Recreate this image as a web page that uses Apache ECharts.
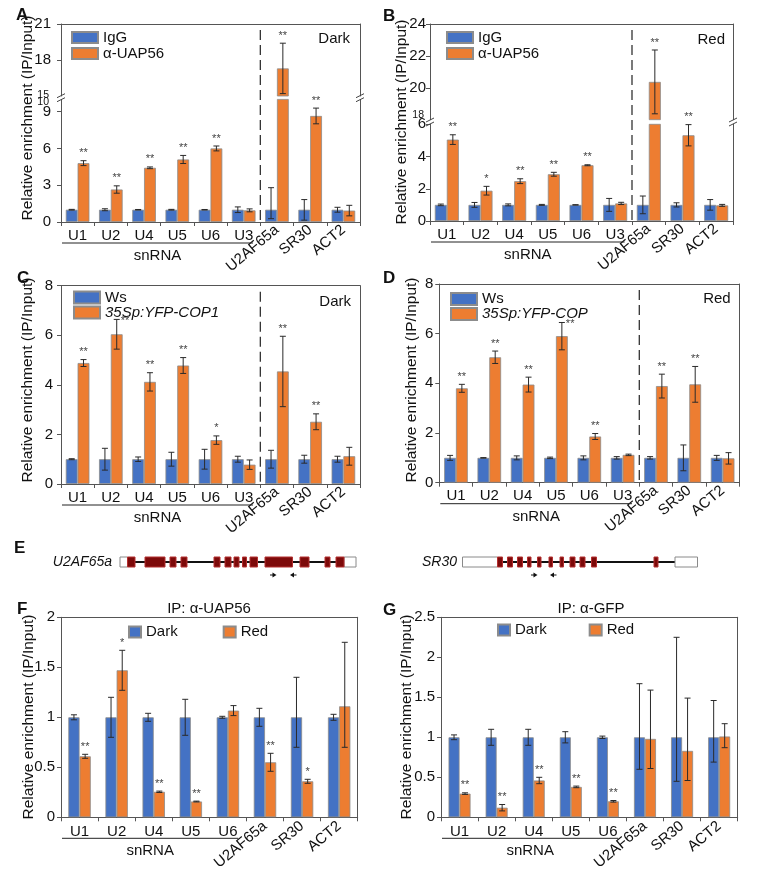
<!DOCTYPE html>
<html><head><meta charset="utf-8">
<script src="https://cdn.jsdelivr.net/npm/echarts@6/dist/echarts.min.js"></script>
<style>html,body{margin:0;padding:0;background:#fff}#c{width:768px;height:874px}</style>
</head><body><div id="c"></div>
<script>
// ================= DATA =================
const catsAD = ['U1','U2','U4','U5','U6','U3','U2AF65a','SR30','ACT2'];
const catsFG = ['U1','U2','U4','U5','U6','U2AF65a','SR30','ACT2'];
const rotatedCats = ['U2AF65a','SR30','ACT2'];
const groupLabel = 'snRNA';

// Panel A (Dark)  IgG vs α-UAP56 ; errors: number = ±, [down, up] = asymmetric
const A_ticksUp  = [15, 18, 21];
const A_ticksLow = [0, 3, 6, 9, 10];
const A_igg    = [1, 1, 1, 1, 1, 1, 1, 1, 1];
const A_iggErr = [0.03, 0.08, 0.02, 0.03, 0.02, 0.23, [0.73, 1.8], [0.85, 0.83], 0.2];
const A_uap    = [4.8, 2.65, 4.42, 5.1, 6.0, 0.95, 17.3, 8.65, 0.93];
const A_uapErr = [0.2, 0.3, 0.07, 0.33, 0.2, 0.12, 2.1, 0.64, 0.43];
const A_stars  = ['**','**','**','**','**','','**','**',''];

// Panel B (Red)
const B_ticksUp  = [18, 20, 22, 24];
const B_ticksLow = [0, 2, 4, 6];
const B_igg    = [1, 1, 1, 1, 1, 1, 1, 1, 1];
const B_iggErr = [0.05, 0.15, 0.06, 0.03, 0.01, 0.4, 0.55, 0.13, 0.33];
const B_uap    = [5.05, 1.88, 2.47, 2.9, 3.46, 1.09, 20.37, 5.32, 0.97];
const B_uapErr = [0.3, 0.27, 0.15, 0.12, 0.03, 0.07, 2.0, 0.66, 0.06];
const B_stars  = ['**','*','**','**','**','','**','**',''];

// Panel C (Dark)  Ws vs 35Sp:YFP-COP1
const C_ticks  = [0, 2, 4, 6, 8];
const C_ws     = [1, 1, 1, 1, 1, 1, 1, 1, 1];
const C_wsErr  = [0.02, 0.44, 0.09, 0.28, 0.4, 0.12, 0.36, 0.16, 0.12];
const C_cop    = [4.88, 6.04, 4.12, 4.78, 1.77, 0.78, 4.54, 2.51, 1.12];
const C_copErr = [0.14, 0.6, 0.37, 0.32, 0.17, 0.19, 1.42, 0.32, 0.36];
const C_stars  = ['**','**','**','**','*','','**','**',''];
const C_starRight = [0, 1, 0, 0, 0, 0, 0, 0, 0];

// Panel D (Red)
const D_ticks  = [0, 2, 4, 6, 8];
const D_ws     = [1, 1, 1, 1, 1, 1, 1, 1, 1];
const D_wsErr  = [0.1, 0.01, 0.08, 0.03, 0.08, 0.05, 0.05, 0.52, 0.1];
const D_cop    = [3.8, 5.05, 3.95, 5.9, 1.86, 1.12, 3.89, 3.96, 0.98];
const D_copErr = [0.16, 0.25, 0.3, 0.55, 0.12, 0.03, 0.48, 0.72, 0.23];
const D_stars  = ['**','**','**','**','**','','**','**',''];
const D_starRight = [0, 0, 0, 1, 0, 0, 0, 0, 0];

// Panel F  IP: α-UAP56
const F_ticks   = [0, 0.5, 1, 1.5, 2];
const F_dark    = [1, 1, 1, 1, 1, 1, 1, 1];
const F_darkErr = [0.025, 0.2, 0.04, 0.18, 0.01, 0.09, [0.3, 0.4], 0.03];
const F_red     = [0.61, 1.47, 0.255, 0.158, 1.067, 0.55, 0.36, 1.11];
const F_redErr  = [0.02, 0.2, 0.007, 0.004, 0.05, 0.09, 0.02, [0.41, 0.64]];
const F_stars   = ['**','*','**','**','','**','*',''];

// Panel G  IP: α-GFP
const G_ticks   = [0, 0.5, 1, 1.5, 2, 2.5];
const G_dark    = [1, 1, 1, 1, 1, 1, 1, 1];
const G_darkErr = [0.03, 0.1, 0.1, 0.07, 0.015, [0.4, 0.67], [0.55, 1.25], [0.31, 0.46]];
const G_red     = [0.296, 0.12, 0.46, 0.38, 0.2, 0.98, 0.83, 1.01];
const G_redErr  = [0.01, 0.04, 0.04, 0.01, 0.01, [0.37, 0.61], [0.37, 0.66], [0.14, 0.16]];
const G_stars   = ['**','**','**','**','**','','',''];

// Panel E gene models (relative gene units)
const E_u2afLen     = 236;
const E_u2afUTR     = [[0, 7.5], [224, 236]];
const E_u2afExons   = [[7.5,15],[25,45],[50,56],[61,67],[94,100],[105,111],[114,119],[122.5,126.5],[130,137.5],[145,172.5],[180,189],[205,210],[216,224]];
const E_u2afPrimers = [[154, 1], [172.5, -1]];
const E_sr30Len     = 235;
const E_sr30UTR     = [[0, 35], [212.5, 235]];
const E_sr30Exons   = [[35,40],[45,50],[55,60],[65,68.5],[75,78.5],[86.5,90],[97.5,101],[107.5,112.5],[117.5,122.5],[129,134],[191.5,195.5]];
const E_sr30Primers = [[72.5, 1], [90, -1]];

// ================= BUILD =================
const FONT = '"Liberation Sans", Arial, Helvetica, sans-serif';
const BLUE = '#4472c4', ORANGE = '#ed7d31', EDGE = '#8c8c8c', AX = '#555', TXT = '#111';
const grids = [], xAxes = [], yAxes = [], series = [], legends = [], gfx = [];
function addGrid(r){ grids.push(Object.assign({show:false, containLabel:false, outerBoundsMode:'none'}, r)); return grids.length-1; }
function addX(o){ xAxes.push(o); return xAxes.length-1; }
function addY(o){ yAxes.push(o); return yAxes.length-1; }
function eDown(e){ return Array.isArray(e) ? e[0] : e; }
function eUp(e){ return Array.isArray(e) ? e[1] : e; }

function errSeries(xi, yi, vals, errs, stars, starRight, side, barW, segMin, segMax){
  const data = [];
  vals.forEach((v, i) => {
    if (v >= segMin && v <= segMax) {
      data.push([i, v, Math.max(segMin, v - eDown(errs[i])), v + eUp(errs[i])]);
    }
  });
  return {type:'custom', xAxisIndex:xi, yAxisIndex:yi, z:5, silent:true, clip:false, data, encode:{x:0, y:1},
    renderItem(p, api){
      const i = api.value(0), v = api.value(1), lo = api.value(2), hi = api.value(3);
      const x = api.coord([i, v])[0] + side * barW / 2;
      const yt = api.coord([i, hi])[1], yb = api.coord([i, lo])[1];
      const st = {stroke:'#2a2a2a', lineWidth:1};
      const ch = [
        {type:'line', shape:{x1:x, y1:yt, x2:x, y2:yb}, style:st},
        {type:'line', shape:{x1:x-3, y1:yt, x2:x+3, y2:yt}, style:st},
        {type:'line', shape:{x1:x-3, y1:yb, x2:x+3, y2:yb}, style:st}
      ];
      const s = stars ? stars[i] : '';
      if (s) {
        const right = starRight && starRight[i];
        ch.push({type:'text', style:{text:s, x: right ? x + 4 : x, y: right ? yt + 7 : yt - 2,
          align: right ? 'left' : 'center', verticalAlign:'bottom',
          textAlign: right ? 'left' : 'center', textVerticalAlign:'bottom', font:'11px '+FONT, fill:'#444'}});
      }
      return {type:'group', children:ch};
    }};
}

function barPanel(cfg){
  const n = cfg.segments.length;
  const topRect = cfg.segments[0].rect;
  cfg.segments.forEach((seg, k) => {
    const isTop = k === 0, isBottom = k === n-1;
    const g = addGrid(seg.rect);
    const tk = seg.ticks, ymin = tk[0], ymax = tk[tk.length-1], step = tk[1]-tk[0];
    const small = seg.small || [];          // [value, dy] labels at the axis break
    const smallVals = small.map(s => s[0]);
    const xi = addX({type:'category', gridIndex:g, data:cfg.cats, position:isBottom?'bottom':'top', boundaryGap:true,
      axisLine:{show:true, lineStyle:{color:AX, width:1}},
      axisTick:{show:isBottom, length:4, interval:0, lineStyle:{color:AX}},
      axisLabel:{show:isBottom, interval:0, margin:cfg.xMargin, fontSize:15, color:TXT, fontFamily:FONT,
        formatter: v => rotatedCats.includes(v) ? '' : v},
      splitLine:{show:false}});
    if (isBottom) {
      addX({type:'category', gridIndex:g, data:cfg.cats, position:'bottom', boundaryGap:true,
        axisLine:{show:false}, axisTick:{show:false}, splitLine:{show:false},
        axisLabel:{interval:0, rotate:40, margin:cfg.xMargin, fontSize:15, color:TXT, fontFamily:FONT,
          formatter: v => rotatedCats.includes(v) ? v : ''}});
      if (isTop) addX({type:'category', gridIndex:g, data:cfg.cats, position:'top',
        axisLine:{show:true, lineStyle:{color:AX, width:1}}, axisTick:{show:false}, axisLabel:{show:false}, splitLine:{show:false}});
    }
    const yi = addY({type:'value', gridIndex:g, position:'left', min:ymin, max:ymax, interval:step,
      axisLine:{show:true, lineStyle:{color:AX, width:1}},
      axisTick:{show:true, length:4, lineStyle:{color:AX}},
      axisLabel:{show:true, margin:cfg.yMargin, fontSize:15, color:TXT, fontFamily:FONT, hideOverlap:false,
        showMinLabel: !smallVals.includes(ymin), showMaxLabel: !smallVals.includes(ymax)},
      splitLine:{show:false}});
    addY({type:'value', gridIndex:g, position:'right', min:ymin, max:ymax, interval:step,
      axisLine:{show:true, lineStyle:{color:AX, width:1}}, axisTick:{show:false}, axisLabel:{show:false}, splitLine:{show:false}});

    if (small.length) {
      series.push({type:'custom', xAxisIndex:xi, yAxisIndex:yi, silent:true, z:6, clip:false,
        data: small.map(s => [0, s[0], s[1]]),
        renderItem(p, api){
          const cs = p.coordSys;
          const y = api.coord([0, api.value(1)])[1] + api.value(2);
          return {type:'text', style:{text:String(api.value(1)), x:cs.x - 4 - cfg.yMargin + 2, y:y,
            align:'right', verticalAlign:'middle', textAlign:'right', textVerticalAlign:'middle',
            font:'10.5px '+FONT, fill:TXT}};
        }});
    }

    cfg.series.forEach((s, si) => {
      series.push({type:'bar', name:s.name, xAxisIndex:xi, yAxisIndex:yi, data:s.vals, barWidth:cfg.barW, barGap:'0%',
        clip:true, silent:true, z:2, itemStyle:{color:s.color, borderColor:EDGE, borderWidth:0.8}});
      series.push(errSeries(xi, yi, s.vals, s.errs, s.stars, s.starRight, si === 0 ? -1 : 1, cfg.barW, ymin, ymax));
    });

    if (isBottom) {
      if (cfg.sep != null) {
        const sepTop = topRect.top + 6;
        series.push({type:'custom', xAxisIndex:xi, yAxisIndex:yi, silent:true, z:4, clip:false, data:[[cfg.sep, ymin]],
          renderItem(p, api){
            const cs = p.coordSys;
            const x = (api.coord([cfg.sep-1, ymin])[0] + api.coord([cfg.sep, ymin])[0]) / 2;
            return {type:'line', shape:{x1:x, y1:sepTop, x2:x, y2:cs.y+cs.height-1},
              style:{stroke:'#333', lineWidth:1.3, lineDash:[10,5]}};
          }});
      }
      series.push({type:'custom', xAxisIndex:xi, yAxisIndex:yi, silent:true, z:4, clip:false, data:[[0, ymin]],
        renderItem(p, api){
          const cs = p.coordSys, band = api.size([1,0])[0];
          const x0 = cs.x + 1, x1 = api.coord([cfg.snCount-1, ymin])[0] + 0.28*band;
          const yl = cs.y + cs.height + 21;
          return {type:'group', children:[
            {type:'line', shape:{x1:x0, y1:yl, x2:x1, y2:yl}, style:{stroke:'#222', lineWidth:1}},
            {type:'text', style:{text:groupLabel, x:(x0+x1)/2, y:yl+13, align:'center', verticalAlign:'middle',
              textAlign:'center', textVerticalAlign:'middle', font:'15px '+FONT, fill:TXT}}
          ]};
        }});
      if (n > 1) {
        const up = cfg.segments[0].rect;
        const gapMid = (up.top + up.height + seg.rect.top) / 2;
        series.push({type:'custom', xAxisIndex:xi, yAxisIndex:yi, silent:true, z:6, clip:false, data:[[0, ymin]],
          renderItem(p){
            const cs = p.coordSys, ch = [];
            [cs.x, cs.x + cs.width].forEach(x0 => {
              [-2, 2].forEach(d => ch.push({type:'line', shape:{x1:x0-4, y1:gapMid+d+2, x2:x0+4, y2:gapMid+d-2},
                style:{stroke:'#444', lineWidth:1}}));
            });
            return {type:'group', children:ch};
          }});
      }
    }
  });
  legends.push(Object.assign({data:cfg.series.map(s => s.name), selectedMode:false, icon:'rect',
    textStyle:{fontSize:15, color:TXT, fontFamily:FONT, lineHeight:cfg.legend.lh || 15,
      rich:{i:{fontStyle:'italic', fontSize:15, color:TXT, fontFamily:FONT}}},
    formatter: nm => (cfg.legend.italic && cfg.legend.italic.includes(nm)) ? '{i|'+nm+'}' : nm,
    padding:0}, cfg.legend.pos));
}

// --- Panels A-D ---
barPanel({cats:catsAD, barW:11.8, sep:6, snCount:6, xMargin:6, yMargin:10,
  segments:[{rect:{left:61, top:24, width:299, height:72}, ticks:A_ticksUp, small:[[15, -0.5]]},
            {rect:{left:61, top:99.4, width:299, height:122.6}, ticks:A_ticksLow, small:[[10, 3]]}],
  series:[{name:'IgG', color:BLUE, vals:A_igg, errs:A_iggErr, stars:null},
          {name:'α-UAP56', color:ORANGE, vals:A_uap, errs:A_uapErr, stars:A_stars}],
  legend:{pos:{orient:'vertical', left:71, top:30, itemWidth:26, itemHeight:11, itemGap:1}}});

barPanel({cats:catsAD, barW:12, sep:6, snCount:6, xMargin:6, yMargin:4,
  segments:[{rect:{left:430, top:24, width:303, height:95.7}, ticks:B_ticksUp, small:[[18, -5]]},
            {rect:{left:430, top:124.3, width:303, height:96.7}, ticks:B_ticksLow}],
  series:[{name:'IgG', color:BLUE, vals:B_igg, errs:B_iggErr, stars:null},
          {name:'α-UAP56', color:ORANGE, vals:B_uap, errs:B_uapErr, stars:B_stars}],
  legend:{pos:{orient:'vertical', left:446, top:30, itemWidth:26, itemHeight:11, itemGap:1}}});

barPanel({cats:catsAD, barW:11.8, sep:6, snCount:6, xMargin:6, yMargin:8,
  segments:[{rect:{left:61, top:285.7, width:299, height:198.3}, ticks:C_ticks}],
  series:[{name:'Ws', color:BLUE, vals:C_ws, errs:C_wsErr, stars:null},
          {name:'35Sp:YFP-COP1', color:ORANGE, vals:C_cop, errs:C_copErr, stars:C_stars, starRight:C_starRight}],
  legend:{italic:['35Sp:YFP-COP1'], lh:14, pos:{orient:'vertical', left:73, top:290, itemWidth:26, itemHeight:12, itemGap:0}}});

barPanel({cats:catsAD, barW:11.8, sep:6, snCount:6, xMargin:6, yMargin:6,
  segments:[{rect:{left:439.3, top:284, width:300, height:198.7}, ticks:D_ticks}],
  series:[{name:'Ws', color:BLUE, vals:D_ws, errs:D_wsErr, stars:null},
          {name:'35Sp:YFP-COP', color:ORANGE, vals:D_cop, errs:D_copErr, stars:D_stars, starRight:D_starRight}],
  legend:{italic:['35Sp:YFP-COP'], lh:14, pos:{orient:'vertical', left:450, top:291.5, itemWidth:26, itemHeight:12, itemGap:0}}});

// --- Panels F, G ---
barPanel({cats:catsFG, barW:11.2, sep:null, snCount:5, xMargin:7, yMargin:6,
  segments:[{rect:{left:61, top:617.3, width:296.7, height:200}, ticks:F_ticks}],
  series:[{name:'Dark', color:BLUE, vals:F_dark, errs:F_darkErr, stars:null},
          {name:'Red', color:ORANGE, vals:F_red, errs:F_redErr, stars:F_stars}],
  legend:{pos:{orient:'horizontal', left:128, top:624.5, itemWidth:12, itemHeight:11, itemGap:45}}});

barPanel({cats:catsFG, barW:11, sep:null, snCount:5, xMargin:7, yMargin:6,
  segments:[{rect:{left:441, top:617.3, width:296.7, height:200}, ticks:G_ticks}],
  series:[{name:'Dark', color:BLUE, vals:G_dark, errs:G_darkErr, stars:null},
          {name:'Red', color:ORANGE, vals:G_red, errs:G_redErr, stars:G_stars}],
  legend:{pos:{orient:'horizontal', left:497, top:622.5, itemWidth:12, itemHeight:11, itemGap:42}}});

// --- Panel E gene models ---
function genePanel(rect, len, utr, exons, primers){
  const g = addGrid(rect);
  const xi = addX({type:'value', gridIndex:g, min:0, max:len, show:false});
  const yi = addY({type:'value', gridIndex:g, min:0, max:1, show:false});
  series.push({type:'custom', xAxisIndex:xi, yAxisIndex:yi, silent:true, z:2, clip:false, data:[[0, len]],
    renderItem(p, api){
      const a = api.coord([api.value(0), 0.5]), b = api.coord([api.value(1), 0.5]);
      return {type:'line', shape:{x1:a[0], y1:a[1], x2:b[0], y2:b[1]}, style:{stroke:'#111', lineWidth:2.2}};
    }});
  const boxes = (data, fill, stroke) => series.push({type:'custom', xAxisIndex:xi, yAxisIndex:yi, silent:true, z:3, clip:false, data,
    renderItem(p, api){
      const a = api.coord([api.value(0), 1]), b = api.coord([api.value(1), 0]);
      return {type:'rect', shape:{x:a[0], y:a[1], width:b[0]-a[0], height:b[1]-a[1]}, style:{fill, stroke, lineWidth:1}};
    }});
  boxes(utr, '#ffffff', '#8a8a8a');
  boxes(exons, '#7d0a0a', '#b53030');
  series.push({type:'custom', xAxisIndex:xi, yAxisIndex:yi, silent:true, z:3, clip:false, data:primers,
    renderItem(p, api){
      const c = api.coord([api.value(0), 0]), d = api.value(1);
      const x = c[0], y = c[1] + 8;
      return {type:'group', children:[
        {type:'line', shape:{x1:x-4*d, y1:y, x2:x, y2:y}, style:{stroke:'#111', lineWidth:1}},
        {type:'polygon', shape:{points:[[x+2.5*d, y], [x-1.5*d, y-2.5], [x-1.5*d, y+2.5]]}, style:{fill:'#111'}}
      ]};
    }});
}
genePanel({left:120, top:557, width:236, height:10}, E_u2afLen, E_u2afUTR, E_u2afExons, E_u2afPrimers);
genePanel({left:462.5, top:557, width:235, height:10}, E_sr30Len, E_sr30UTR, E_sr30Exons, E_sr30Primers);

// --- free text ---
function T(text, x, y, o){
  o = o || {};
  return {type:'text', x, y, rotation:o.rot || 0, silent:true, z:10,
    style:{text, font:o.font || ('15px '+FONT), fill:TXT, align:o.align || 'left', verticalAlign:o.va || 'middle',
      textAlign:o.align || 'left', textVerticalAlign:o.va || 'middle'}};
}
const yTitle = 'Relative enrichment (IP/Input)';
const bold = 'bold 17px '+FONT;
gfx.push(T('A', 16, 15, {font:bold}), T('B', 383, 16, {font:bold}), T('C', 17, 278, {font:bold}),
  T('D', 383, 278, {font:bold}), T('E', 14, 548, {font:bold}), T('F', 17, 609, {font:bold}), T('G', 383, 610, {font:bold}));
[[28,118],[402,122],[28,380],[412,380],[28.3,717],[406.7,717]].forEach(p =>
  gfx.push(T(yTitle, p[0], p[1], {rot:Math.PI/2, align:'center', font:'15.5px '+FONT})));
gfx.push(T('Dark', 350, 39, {align:'right'}), T('Red', 725, 40, {align:'right'}),
  T('Dark', 351, 302, {align:'right'}), T('Red', 730.7, 299, {align:'right'}));
gfx.push(T('IP: α-UAP56', 209, 609, {align:'center'}), T('IP: α-GFP', 591, 609, {align:'center'}));
gfx.push(T('U2AF65a', 112, 562, {align:'right', font:'italic 14px '+FONT}),
  T('SR30', 457, 562, {align:'right', font:'italic 14px '+FONT}));

const chart = echarts.init(document.getElementById('c'), null, {renderer:'canvas'});
chart.setOption({
  animation:false, backgroundColor:'#ffffff',
  textStyle:{fontFamily:FONT, color:TXT},
  grid:grids, xAxis:xAxes, yAxis:yAxes, series, legend:legends,
  graphic:{elements:gfx}
});
</script></body></html>
